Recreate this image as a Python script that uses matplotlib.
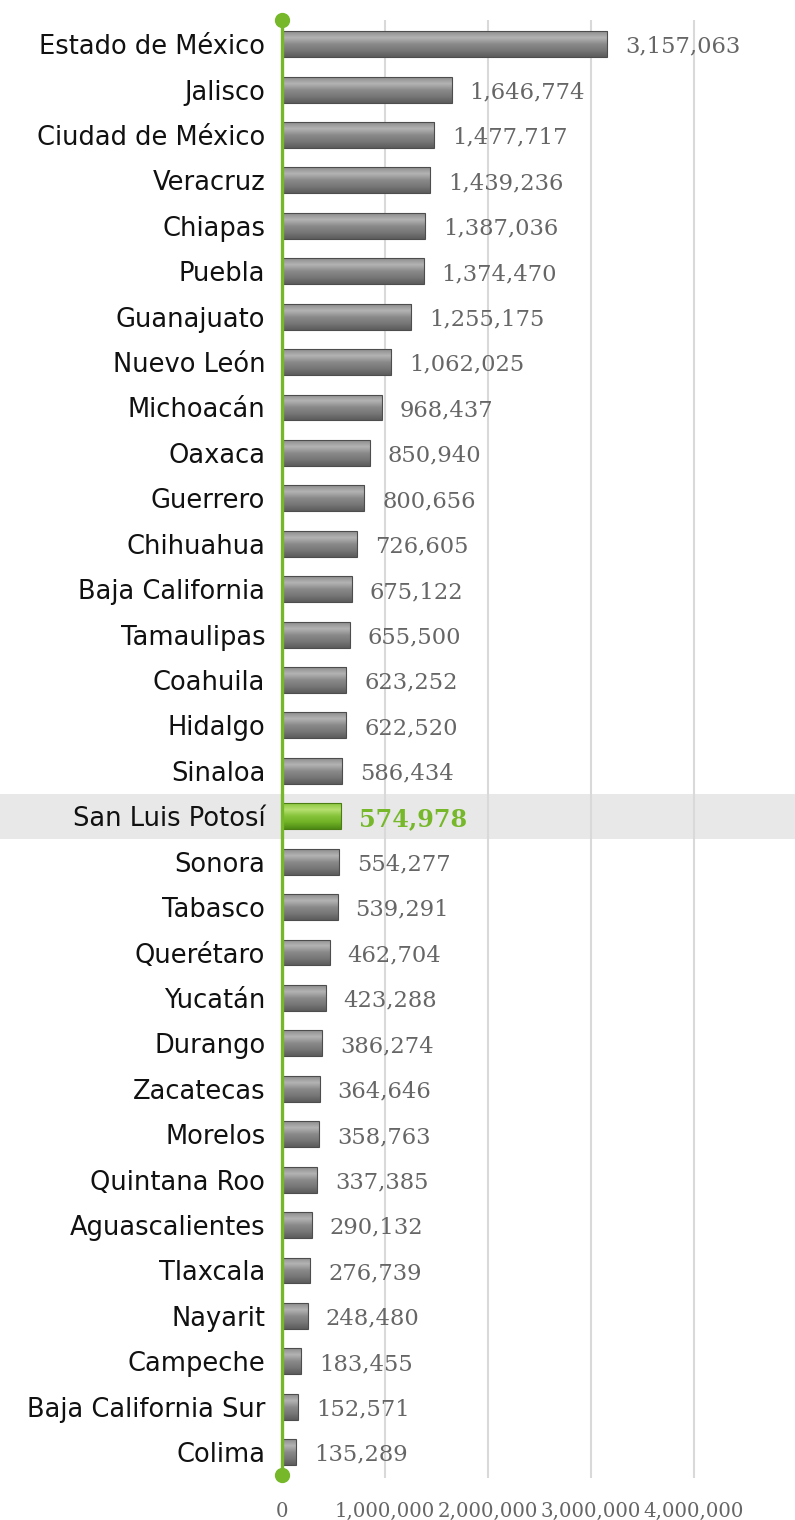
import numpy as np
import matplotlib
matplotlib.use("Agg")
import matplotlib.pyplot as plt
from matplotlib.colors import LinearSegmentedColormap
from matplotlib.patches import Rectangle
from matplotlib.ticker import FuncFormatter
import matplotlib.transforms as mtransforms

# Data
states = [
    "Estado de México", "Jalisco", "Ciudad de México", "Veracruz", "Chiapas",
    "Puebla", "Guanajuato", "Nuevo León", "Michoacán", "Oaxaca", "Guerrero",
    "Chihuahua", "Baja California", "Tamaulipas", "Coahuila", "Hidalgo",
    "Sinaloa", "San Luis Potosí", "Sonora", "Tabasco", "Querétaro", "Yucatán",
    "Durango", "Zacatecas", "Morelos", "Quintana Roo", "Aguascalientes",
    "Tlaxcala", "Nayarit", "Campeche", "Baja California Sur", "Colima",
]
values = [
    3157063, 1646774, 1477717, 1439236, 1387036, 1374470, 1255175, 1062025,
    968437, 850940, 800656, 726605, 675122, 655500, 623252, 622520, 586434,
    574978, 554277, 539291, 462704, 423288, 386274, 364646, 358763, 337385,
    290132, 276739, 248480, 183455, 152571, 135289,
]
highlight = "San Luis Potosí"
x_ticks = [0, 1000000, 2000000, 3000000, 4000000]

green = "#76b82a"
grey_text = "#666666"

gray_cmap = LinearSegmentedColormap.from_list(
    "bar_gray", ["#8c8c8c", "#b4b4b4", "#8a8a8a", "#777777", "#5c5c5c"])
green_cmap = LinearSegmentedColormap.from_list(
    "bar_green", ["#8cc63f", "#b6e070", "#86c33a", "#6fb126", "#4e8a14"])

fig = plt.figure(figsize=(7.95, 15.2), dpi=100)
ax = fig.add_axes([0.3547, 0.0276, 0.6453, 0.9592])
ax.set_facecolor("none")

n = len(states)
ypos = np.arange(n)
bar_h = 0.57
grad = np.linspace(0, 1, 64).reshape(-1, 1)

for y, v, s in zip(ypos, values, states):
    is_hl = s == highlight
    cmap = green_cmap if is_hl else gray_cmap
    edge = "#4a7d14" if is_hl else "#4d4d4d"
    bar = ax.barh(y, v, height=bar_h, color="none", edgecolor=edge,
                  linewidth=0.8, zorder=3)[0]
    im = ax.imshow(grad, cmap=cmap, aspect="auto", zorder=2,
                   extent=(0, v, y + bar_h / 2, y - bar_h / 2))
    im.set_clip_path(bar)
    ax.annotate(f"{v:,}", (v, y), xytext=(13, -2), textcoords="offset points",
                va="center", ha="left", fontsize=16.3 if not is_hl else 17.2,
                family="DejaVu Serif", color=green if is_hl else grey_text,
                fontweight="bold" if is_hl else "normal")

ax.set_xlim(0, 4980000)
ax.set_ylim(n - 0.43, -0.53)

# highlight band across the full figure width
hl_idx = states.index(highlight)
trans = mtransforms.blended_transform_factory(fig.transFigure, ax.transData)
fig.add_artist(Rectangle((0, hl_idx - 0.5), 1, 1.0, transform=trans,
                         facecolor="#e8e8e8", edgecolor="none", zorder=-1))

# green axis line with dots at the ends
ax.plot([0, 0], [-0.53, n - 0.5], color=green, lw=2.4, zorder=5,
        clip_on=False)
ax.plot([0, 0], [-0.53, n - 0.5], "o", color=green, ms=10, zorder=6,
        clip_on=False)

ax.set_yticks(ypos)
ax.set_yticklabels(states, fontsize=18.5, family="DejaVu Sans", color="#111111")
ax.tick_params(axis="y", length=0, pad=12)
ax.set_xticks(x_ticks)
ax.xaxis.set_major_formatter(FuncFormatter(lambda x, p: f"{int(x):,}"))
ax.tick_params(axis="x", length=0, pad=17, labelsize=14.2, labelcolor=grey_text)
for lbl in ax.get_xticklabels():
    lbl.set_family("DejaVu Serif")

ax.grid(axis="x", color="#d9d9d9", lw=1.5, zorder=0)
ax.set_axisbelow(True)
for sp in ax.spines.values():
    sp.set_visible(False)

fig.savefig("out.png", dpi=100)
